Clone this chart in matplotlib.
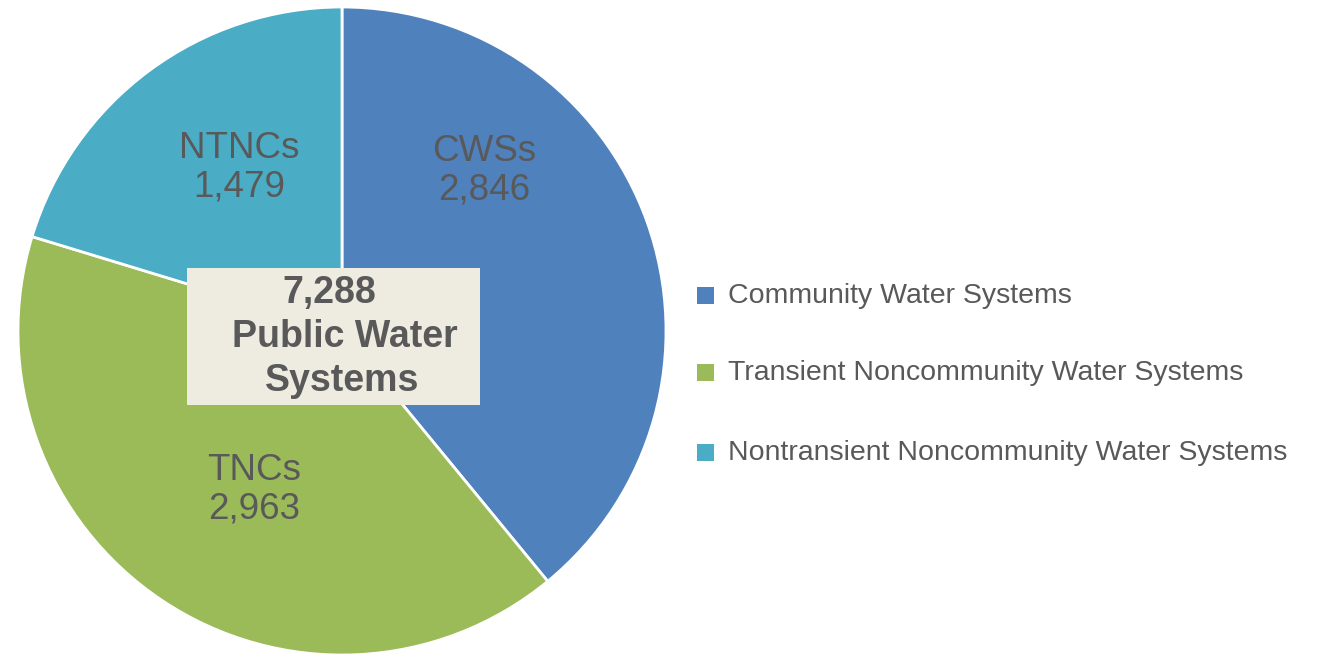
import matplotlib.pyplot as plt
from matplotlib.patches import Rectangle

plt.rcParams['font.family'] = ['Liberation Sans', 'DejaVu Sans']

# data
short_names = ["CWSs", "TNCs", "NTNCs"]
long_names = ["Community Water Systems", "Transient Noncommunity Water Systems",
              "Nontransient Noncommunity Water Systems"]
counts = [2846, 2963, 1479]
colors = ["#4F81BD", "#9BBB59", "#4BACC6"]
total_label = "7,288"

W, H = 1322, 654
fig = plt.figure(figsize=(W / 100, H / 100), dpi=100)
txt_col = "#595959"

# pie axes: centre ~ (342, 331), radius ~ 324 px
cx, cy, r = 342, 331, 324
ax = fig.add_axes([(cx - r) / W, (H - cy - r) / H, 2 * r / W, 2 * r / H])
ax.pie(counts, colors=colors, startangle=90, counterclock=False, radius=1,
       wedgeprops=dict(edgecolor="white", linewidth=2))
ax.set_xlim(-1, 1)
ax.set_ylim(-1, 1)
ax.axis("off")

# slice labels (pixel positions of label centres)
label_pos = [(484, 171), (254, 490), (239, 168)]
for name, n, (px, py) in zip(short_names, counts, label_pos):
    fig.text(px / W, 1 - py / H, f"{name}\n{n:,}", ha="center", va="center",
             fontsize=26.5, color=txt_col, linespacing=1.12)

# centre box
fig.patches.append(Rectangle((187 / W, 1 - 405 / H), 293 / W, 137 / H,
                             transform=fig.transFigure, facecolor="#EEECE1",
                             edgecolor="none", zorder=5))
for line, (px, py) in zip([total_label, "Public Water", "Systems"],
                          [(329, 293), (345, 337), (342, 381)]):
    fig.text(px / W, 1 - py / H, line, ha="center", va="center", fontsize=27,
             fontweight="bold", color=txt_col, zorder=6)

# legend
for i, (name, c) in enumerate(zip(long_names, colors)):
    y = [296, 373, 453][i]
    fig.patches.append(Rectangle((697 / W, 1 - (y + 8) / H), 17 / W, 17 / H,
                                 transform=fig.transFigure, facecolor=c,
                                 edgecolor="none"))
    fig.text(728 / W, 1 - y / H, name, ha="left", va="center", fontsize=20.5,
             color=txt_col)

fig.savefig("out.png", dpi=100)
